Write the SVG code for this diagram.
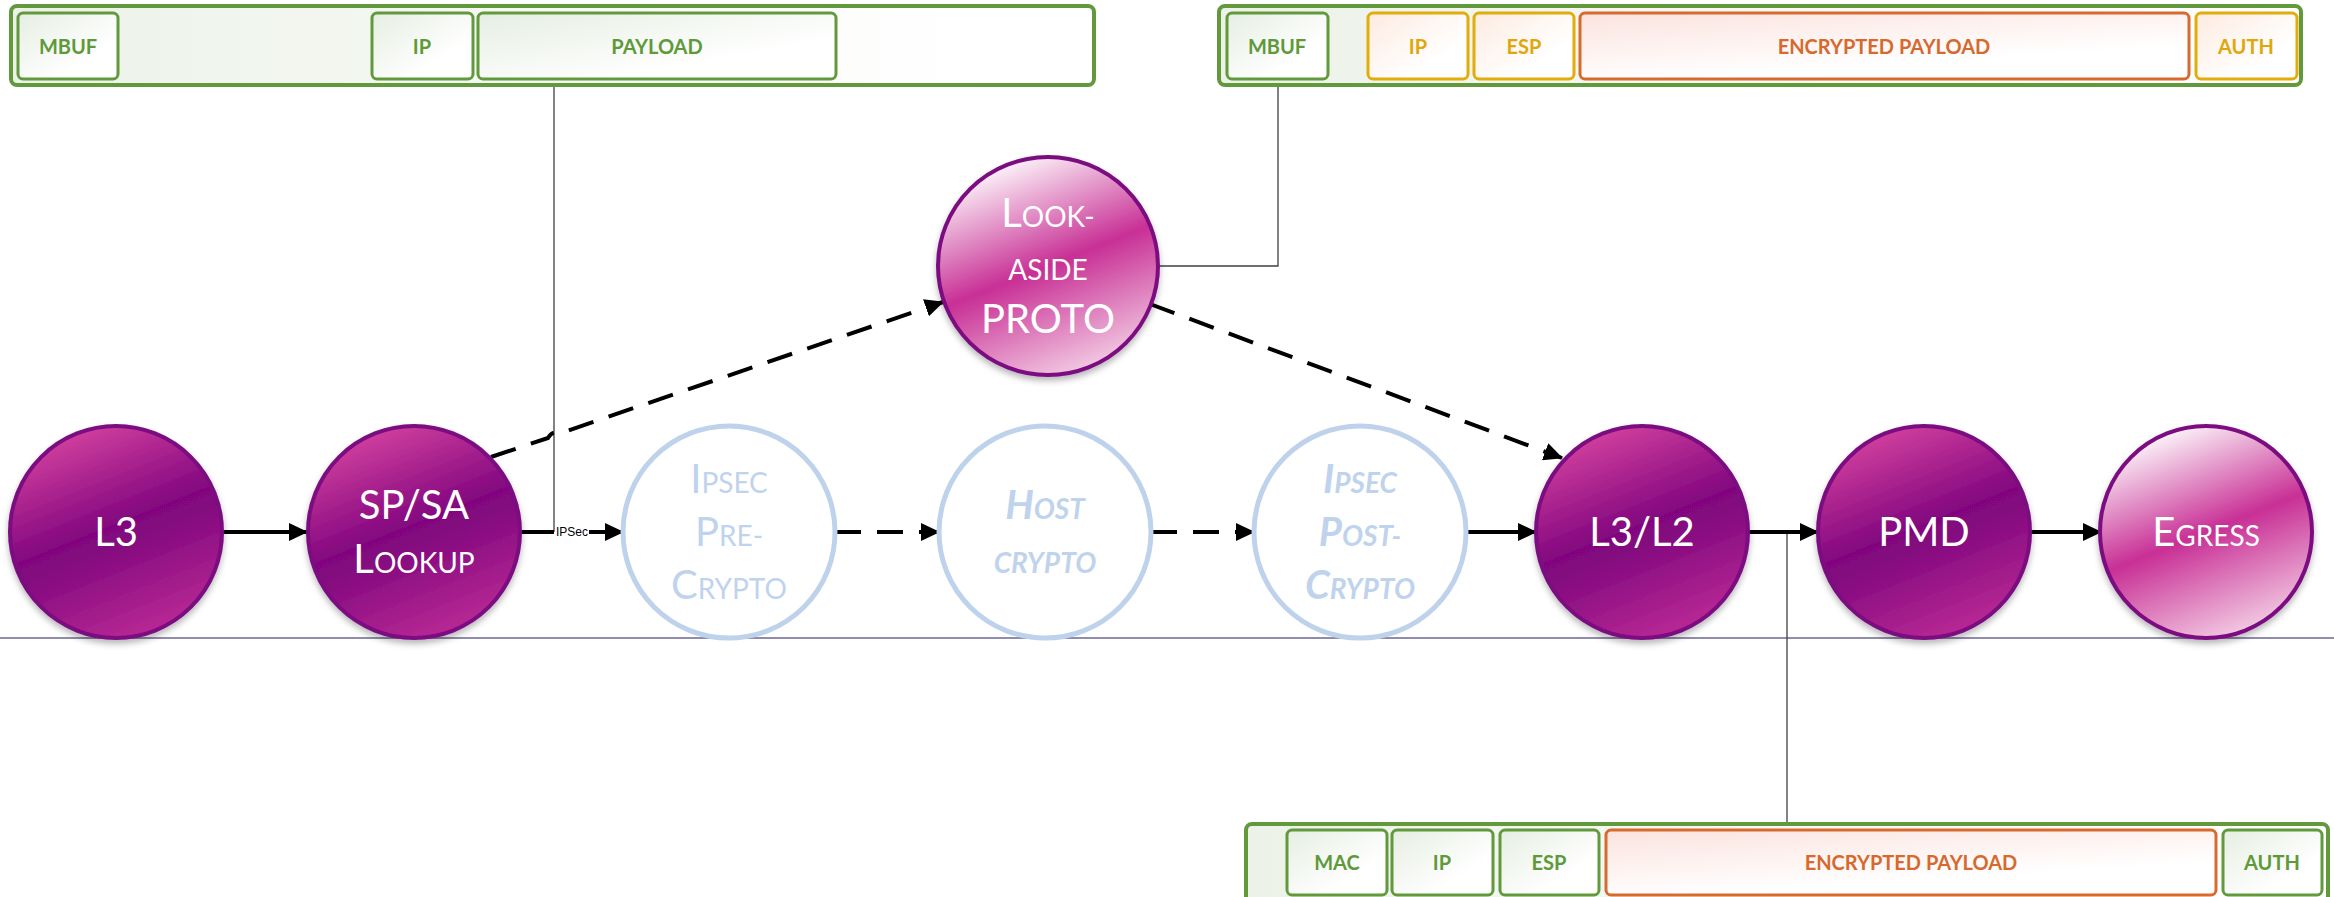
<svg xmlns="http://www.w3.org/2000/svg" width="2334" height="897" viewBox="0 0 2334 897">
  <defs>
    <style>
      .node-dark { fill: url(#gDark); stroke: #7c0a80; stroke-width: 4; filter: url(#shadow); }
      .node-light { fill: url(#gLight); stroke: #7c0a80; stroke-width: 4; filter: url(#shadow); }
      .node-pale { fill: #ffffff; stroke: #bed3eb; stroke-width: 5; }
      .lbl { font-family: Lato, "Open Sans", sans-serif; font-size: 40px; fill: #ffffff; text-anchor: middle; }
      .lbl-pale { font-family: Lato, "Open Sans", sans-serif; font-size: 40px; fill: #bfd3ec; text-anchor: middle; }
      .bi { font-weight: bold; font-style: italic; }
      .sc { font-size: 28px; }
      .outer { stroke: #62993d; stroke-width: 4; }
      .seg-g { fill: url(#gGreen); stroke: #62993d; stroke-width: 3; }
      .seg-y { fill: url(#gOrange); stroke: #e2ac0b; stroke-width: 3; }
      .seg-r { fill: url(#gRed); stroke: #d76a2f; stroke-width: 3; }
      .seg-txt { font-family: Lato, "Open Sans", sans-serif; font-weight: bold; font-size: 20px; text-anchor: middle; }
      .t-g { fill: #5e993a; }
      .t-y { fill: #e0a70a; }
      .t-r { fill: #d6692e; }
      .flow { stroke: #000000; stroke-width: 4; fill: none; }
      .dash { stroke-dasharray: 26 16; }
      .thin { stroke: #404040; stroke-width: 1.3; fill: none; }
    </style>
    <linearGradient id="gDark" x1="0.3" y1="0" x2="0.7" y2="1">
      <stop offset="0" stop-color="#d4429f"/>
      <stop offset="0.47" stop-color="#82067f"/>
      <stop offset="0.55" stop-color="#83087f"/>
      <stop offset="1" stop-color="#bc2c96"/>
    </linearGradient>
    <linearGradient id="gLight" x1="0.3" y1="0" x2="0.7" y2="1">
      <stop offset="0" stop-color="#ffffff"/>
      <stop offset="0.5" stop-color="#c82f95"/>
      <stop offset="1" stop-color="#f5d3e7"/>
    </linearGradient>
    <linearGradient id="gGreen" x1="0" y1="0" x2="1" y2="1">
      <stop offset="0" stop-color="#e6eee2"/>
      <stop offset="0.7" stop-color="#ffffff"/>
    </linearGradient>
    <linearGradient id="gOrange" x1="0" y1="0" x2="1" y2="1">
      <stop offset="0" stop-color="#fdebe0"/>
      <stop offset="0.7" stop-color="#ffffff"/>
    </linearGradient>
    <linearGradient id="gRed" x1="0" y1="0" x2="0.6" y2="1">
      <stop offset="0" stop-color="#fbe3de"/>
      <stop offset="0.8" stop-color="#ffffff"/>
    </linearGradient>
    <linearGradient id="gOuter" x1="0" y1="0" x2="1" y2="0">
      <stop offset="0" stop-color="#ecf2e8"/>
      <stop offset="0.9" stop-color="#ffffff"/>
    </linearGradient>
    <filter id="shadow" x="-20%" y="-20%" width="140%" height="145%">
      <feDropShadow dx="0" dy="4" stdDeviation="3" flood-color="#000000" flood-opacity="0.28"/>
    </filter>
    <marker id="arrow" markerUnits="userSpaceOnUse" markerWidth="20" markerHeight="18" refX="18" refY="9" orient="auto">
      <path d="M0,0 L19,9 L0,18 z" fill="#000000"/>
    </marker>
  </defs>

  <rect width="2334" height="897" fill="#ffffff"/>

  <!-- separator line -->
  <line x1="0" y1="638" x2="2334" y2="638" stroke="#6e6690" stroke-width="1.5"/>

  <!-- connectors -->
  <g id="connectors">
    <!-- leader lines to the packet layouts -->
    <path class="thin" d="M554,85 V532"/>
    <path class="thin" d="M1158,266 H1278 V85"/>
    <path class="thin" d="M1787,532 V824"/>

    <path class="flow" d="M223,532 H307" marker-end="url(#arrow)"/>
    <path class="flow" d="M520,532 H554"/>
    <text x="572" y="536" font-family="'Liberation Sans', Arial, sans-serif" font-size="12" text-anchor="middle" fill="#000000">IPSec</text>
    <path class="flow" d="M589,532 H623" marker-end="url(#arrow)"/>
    <path class="flow dash" d="M835,532 H939" marker-end="url(#arrow)"/>
    <path class="flow dash" d="M1151,532 H1254" marker-end="url(#arrow)"/>
    <path class="flow" d="M1467,532 H1536" marker-end="url(#arrow)"/>
    <path class="flow" d="M1748,532 H1818" marker-end="url(#arrow)"/>
    <path class="flow" d="M2030,532 H2101" marker-end="url(#arrow)"/>

    <!-- bypass through the look-aside engine, hopping the leader line -->
    <path class="flow dash" d="M491,457 L548,438 Q553,430 558,434 L943,302" marker-end="url(#arrow)"/>
    <path class="flow dash" d="M1150,304 L1562,458" marker-end="url(#arrow)"/>
  </g>

  <!-- plain packet in mbuf -->
  <g id="pkt-plain">
    <rect class="outer" x="11" y="6" width="1083" height="79" rx="6" fill="url(#gOuter)"/>
    <rect class="seg-g" x="18" y="13" width="100" height="66" rx="5"/>
    <text class="seg-txt t-g" x="68" y="54">MBUF</text>
    <rect class="seg-g" x="372" y="13" width="101" height="66" rx="5"/>
    <text class="seg-txt t-g" x="422" y="54">IP</text>
    <rect class="seg-g" x="478" y="13" width="358" height="66" rx="5"/>
    <text class="seg-txt t-g" x="657" y="54">PAYLOAD</text>
  </g>

  <!-- encrypted packet in mbuf -->
  <g id="pkt-esp-mbuf">
    <rect class="outer" x="1219" y="6" width="1082" height="79" rx="6" fill="url(#gOuter)"/>
    <rect class="seg-g" x="1227" y="13" width="101" height="66" rx="5"/>
    <text class="seg-txt t-g" x="1277" y="54">MBUF</text>
    <rect class="seg-y" x="1368" y="13" width="100" height="66" rx="5"/>
    <text class="seg-txt t-y" x="1418" y="54">IP</text>
    <rect class="seg-y" x="1474" y="13" width="100" height="66" rx="5"/>
    <text class="seg-txt t-y" x="1524" y="54">ESP</text>
    <rect class="seg-r" x="1580" y="13" width="609" height="66" rx="5"/>
    <text class="seg-txt t-r" x="1884" y="54">ENCRYPTED PAYLOAD</text>
    <rect class="seg-y" x="2196" y="13" width="101" height="66" rx="5"/>
    <text class="seg-txt t-y" x="2246" y="54">AUTH</text>
  </g>

  <!-- encrypted frame on the wire -->
  <g id="pkt-esp-frame">
    <rect class="outer" x="1246" y="824" width="1082" height="82" rx="6" fill="url(#gOuter)"/>
    <rect class="seg-g" x="1287" y="830" width="100" height="65" rx="5"/>
    <text class="seg-txt t-g" x="1337" y="870">MAC</text>
    <rect class="seg-g" x="1392" y="830" width="101" height="65" rx="5"/>
    <text class="seg-txt t-g" x="1442" y="870">IP</text>
    <rect class="seg-g" x="1500" y="830" width="99" height="65" rx="5"/>
    <text class="seg-txt t-g" x="1549" y="870">ESP</text>
    <rect class="seg-r" x="1606" y="830" width="610" height="65" rx="5"/>
    <text class="seg-txt t-r" x="1911" y="870">ENCRYPTED PAYLOAD</text>
    <rect class="seg-g" x="2223" y="830" width="99" height="65" rx="5"/>
    <text class="seg-txt t-g" x="2272" y="870">AUTH</text>
  </g>

  <!-- pipeline stages -->
  <g id="node-l3">
    <ellipse class="node-dark" cx="116" cy="532" rx="106" ry="106"/>
    <text class="lbl" x="116" y="546">L3</text>
  </g>

  <g id="node-spsa">
    <ellipse class="node-dark" cx="414" cy="532" rx="106" ry="106"/>
    <text class="lbl" x="414" y="519">SP/SA</text>
    <text class="lbl" x="414" y="573">L<tspan class="sc">OOKUP</tspan></text>
  </g>

  <g id="node-lookaside">
    <ellipse class="node-light" cx="1048" cy="266" rx="110" ry="109"/>
    <text class="lbl" x="1048" y="227">L<tspan class="sc">OOK-</tspan></text>
    <text class="lbl sc" x="1048" y="280">ASIDE</text>
    <text class="lbl" x="1048" y="333">PROTO</text>
  </g>

  <g id="node-precrypto">
    <ellipse class="node-pale" cx="729" cy="532" rx="106" ry="106"/>
    <text class="lbl-pale" x="729" y="493">I<tspan class="sc">PSEC</tspan></text>
    <text class="lbl-pale" x="729" y="546">P<tspan class="sc">RE-</tspan></text>
    <text class="lbl-pale" x="729" y="599">C<tspan class="sc">RYPTO</tspan></text>
  </g>

  <g id="node-hostcrypto">
    <ellipse class="node-pale" cx="1045" cy="532" rx="106" ry="106"/>
    <text class="lbl-pale bi" x="1045" y="519">H<tspan class="sc">OST</tspan></text>
    <text class="lbl-pale bi sc" x="1045" y="573">CRYPTO</text>
  </g>

  <g id="node-postcrypto">
    <ellipse class="node-pale" cx="1360" cy="532" rx="106" ry="106"/>
    <text class="lbl-pale bi" x="1360" y="493">I<tspan class="sc">PSEC</tspan></text>
    <text class="lbl-pale bi" x="1360" y="546">P<tspan class="sc">OST-</tspan></text>
    <text class="lbl-pale bi" x="1360" y="599">C<tspan class="sc">RYPTO</tspan></text>
  </g>

  <g id="node-l3l2">
    <ellipse class="node-dark" cx="1642" cy="532" rx="106" ry="106"/>
    <text class="lbl" x="1642" y="546">L3/L2</text>
  </g>

  <g id="node-pmd">
    <ellipse class="node-dark" cx="1924" cy="532" rx="106" ry="106"/>
    <text class="lbl" x="1924" y="546">PMD</text>
  </g>

  <g id="node-egress">
    <ellipse class="node-light" cx="2206" cy="532" rx="106" ry="106"/>
    <text class="lbl" x="2206" y="546">E<tspan class="sc">GRESS</tspan></text>
  </g>
</svg>
